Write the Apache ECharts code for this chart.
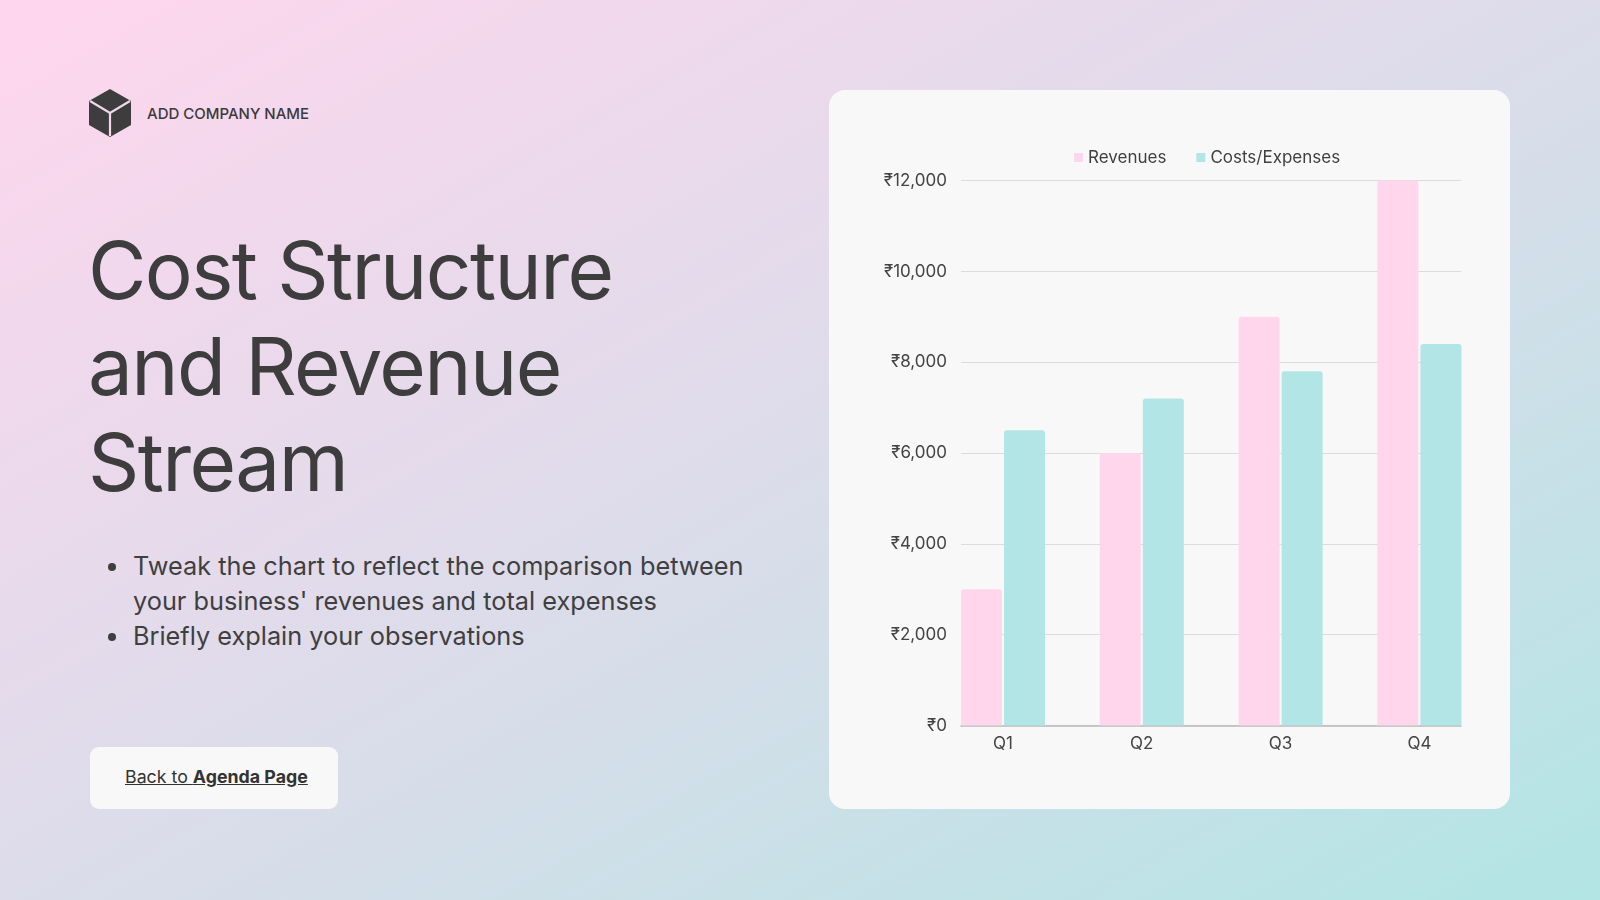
<!DOCTYPE html>
<html>
<head>
<meta charset="utf-8">
<script src="https://cdn.jsdelivr.net/npm/echarts@6/dist/echarts.min.js"></script>
<style>
  html, body { margin:0; padding:0; width:1600px; height:900px; overflow:hidden; }
  body {
    background: linear-gradient(to bottom right, #FFD6EE 0%, #DCDCEA 50%, #B2E5E4 100%);
    font-family: Inter, "Noto Sans", "DejaVu Sans", sans-serif;
    color: #3f3f3f;
    position: relative;
  }
  .logo { position:absolute; left:89px; top:89px; width:42px; height:48px; }
  .company { position:absolute; left:147px; top:104px; font-size:15px; font-weight:500; letter-spacing:0; color:#3a3a3a; }
  .title { position:absolute; left:88px; top:222px; font-size:80px; line-height:96px; font-weight:400; letter-spacing:-1.6px; color:#3d3d3d; }
  .bullets { position:absolute; left:105px; top:548px; margin:0; padding:0 0 0 26px; font-size:25.3px; line-height:35px; color:#3f3f3f; width:640px; letter-spacing:0; }
  .bullets li { padding-left:2px; }
  .btn { position:absolute; left:90px; top:747px; width:248px; height:62px; background:#F8F8F8; border-radius:9px; }
  .btn span { position:absolute; left:35px; top:19px; font-size:17.8px; text-decoration:underline; color:#333; white-space:nowrap; }
  .card { position:absolute; left:829px; top:90px; width:681px; height:719px; background:#F8F8F8; border-radius:16px; }
  #chart { position:absolute; left:0; top:0; width:681px; height:719px; }
</style>
</head>
<body>
<svg class="logo" viewBox="0 0 42 48">
  <polygon points="21,0 42,12 42,36 21,48 0,36 0,12" fill="#3d3d3d"/>
  <polyline points="1,12 21,24 41,12" fill="none" stroke="#f0d8ea" stroke-width="2.2"/>
  <line x1="21" y1="24" x2="21" y2="47" stroke="#f0d8ea" stroke-width="2.2"/>
</svg>
<div class="company">ADD COMPANY NAME</div>
<div class="title">Cost Structure<br>and Revenue<br>Stream</div>
<ul class="bullets">
  <li>Tweak the chart to reflect the comparison between your business' revenues and total expenses</li>
  <li>Briefly explain your observations</li>
</ul>
<div class="btn"><span>Back to <b>Agenda Page</b></span></div>
<div class="card"><div id="chart"></div></div>
<script>
const categories = ['Q1', 'Q2', 'Q3', 'Q4'];
const revenues = [3000, 6000, 9000, 12000];
const costs = [6500, 7200, 7800, 8400];
const seriesNames = ['Revenues', 'Costs/Expenses'];
const yMin = 0, yMax = 12000, yStep = 2000;

const font = 'Inter, "Noto Sans", "DejaVu Sans", sans-serif';
const chart = echarts.init(document.getElementById('chart'));
chart.setOption({
  animation: false,
  textStyle: { fontFamily: font },
  color: ['#FFD6EC', '#B2E6E6'],
  legend: {
    left: 240, top: 54,
    itemWidth: 9, itemHeight: 9, itemGap: 30,
    icon: 'rect',
    textStyle: { fontSize: 17, color: '#3f3f3f', fontFamily: font },
    data: seriesNames
  },
  grid: [
    { left: 132, right: 49, top: 90.6, bottom: 83.5 },
    { left: 104.6, right: 21.2, top: 90.6, bottom: 83.5 }
  ],
  xAxis: [
    { gridIndex: 0, type: 'value', min: 0, max: 1, show: true,
      axisLine: { show: true, onZero: false, lineStyle: { color: '#b9b9b9', width: 1.5 } },
      axisTick: { show: false }, axisLabel: { show: false }, splitLine: { show: false } },
    { gridIndex: 1, type: 'category', data: categories,
      axisLine: { show: false }, axisTick: { show: false },
      axisLabel: { margin: 10, fontSize: 17, color: '#444', fontFamily: font } }
  ],
  yAxis: [
    { gridIndex: 0, type: 'value', min: yMin, max: yMax, interval: yStep,
      axisLine: { show: false }, axisTick: { show: false },
      axisLabel: { margin: 14, fontSize: 17, color: '#444', fontFamily: font,
        formatter: v => '\u20B9' + v.toLocaleString('en-US') },
      splitLine: { lineStyle: { color: '#dcdcdc', width: 1 } } },
    { gridIndex: 1, type: 'value', min: yMin, max: yMax, interval: yStep, show: false,
      splitLine: { show: false } }
  ],
  series: [
    { name: seriesNames[0], type: 'bar', xAxisIndex: 1, yAxisIndex: 1, data: revenues,
      barWidth: 41, barGap: '5%', itemStyle: { borderRadius: [3, 3, 0, 0] } },
    { name: seriesNames[1], type: 'bar', xAxisIndex: 1, yAxisIndex: 1, data: costs,
      barWidth: 41, barGap: '5%', itemStyle: { borderRadius: [3, 3, 0, 0] } }
  ]
});
</script>
</body>
</html>
